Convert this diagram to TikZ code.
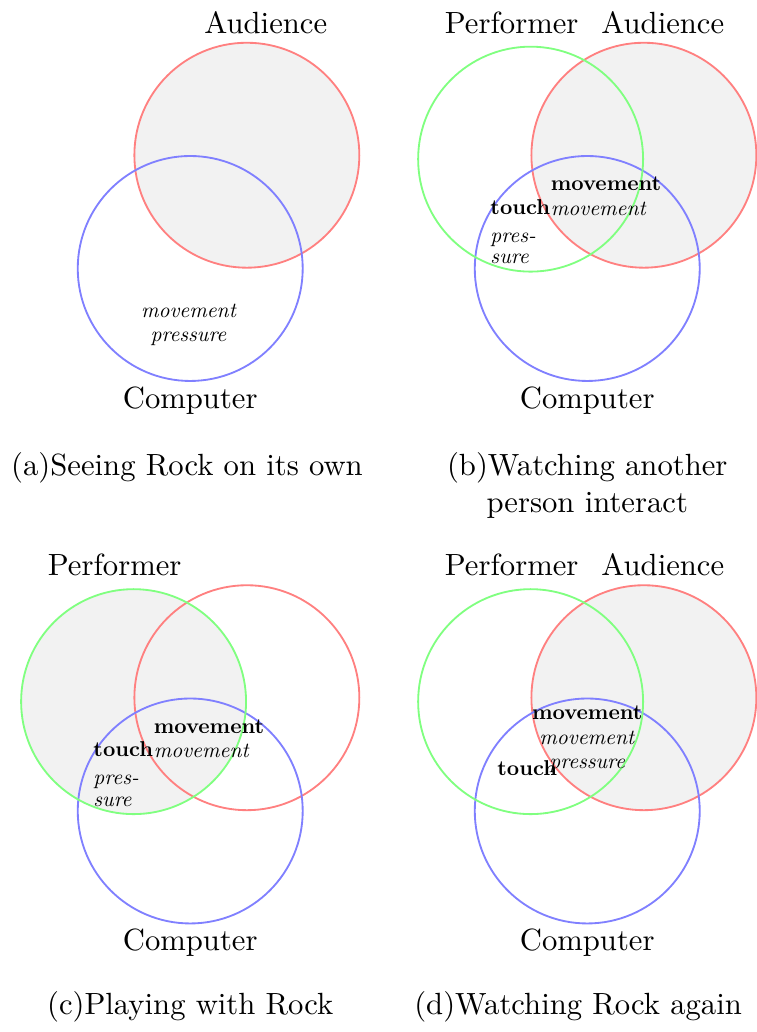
\documentclass[tikz,border=0pt]{standalone}
\usepackage{fontspec}
\setmainfont{lmroman10-regular.otf}[BoldFont=lmroman10-bold.otf, ItalicFont=lmroman10-italic.otf, BoldItalicFont=lmroman10-bolditalic.otf]
\begin{document}
\begin{tikzpicture}[
    lbl/.style={anchor=base, inner sep=0pt},
    note/.style={font=\scriptsize, inner sep=0pt},
    ring/.style={semithick},
]
\useasboundingbox (-2.180,3.077) rectangle (6.495,-8.750);
\foreach \p/\x/\y in {a/0/0, b/4.55/0, c/0/-6.217, d/4.55/-6.217} {
    \coordinate (comp-\p) at (\x,\y);
    \coordinate (aud-\p) at (\x+0.649,\y+1.298);
    \coordinate (perf-\p) at (\x-0.649,\y+1.253);
}
\foreach \c in {aud-a, aud-b, perf-c, aud-d}
    \fill[black!5] (\c) circle (1.289);
\foreach \p in {a,b,c,d} {
    \draw[ring, red!50] (aud-\p) circle (1.289);
    \draw[ring, blue!50] (comp-\p) circle (1.289);
    \node[lbl] (complbl-\p) at ([yshift=-1.602cm]comp-\p) {Computer};
}
\foreach \p in {b,c,d}
    \draw[ring, green!50] (perf-\p) circle (1.289);
\foreach \p in {a,b,d}
    \node[lbl] (audlbl-\p) at ([shift={(0.866,2.695)}]comp-\p) {Audience};
\foreach \p in {b,c,d}
    \node[lbl] (perflbl-\p) at ([shift={(-0.866,2.695)}]comp-\p) {Performer};

\node[note, font=\scriptsize\itshape, align=center, anchor=base] (notes-a) at ([shift={(-0.02,-0.842)}]comp-a) {movement\\pressure};
\foreach \p in {b,c} {
    \node[note, align=left, anchor=base west] (mv-\p) at ([shift={(-0.424,0.609)}]comp-\p) {\textbf{movement}\\\textit{movement}};
    \node[note, align=left, anchor=base west] (touch-\p) at ([shift={(-1.116,0.055)}]comp-\p) {\textbf{touch}\\[1.2pt]\textit{pres-}\\[-1pt]\textit{sure}};
}
\node[note, align=center, anchor=base] (mv-d) at ([shift={(0,0.484)}]comp-d) {\textbf{movement}\\\textit{movement}\\\textit{pressure}};
\node[note, anchor=base west] (touch-d) at ([shift={(-1.037,0.407)}]comp-d) {\textbf{touch}};

\node[lbl] (cap-a) at (-0.037,-2.367) {(a)Seeing Rock on its own};
\node[lbl, align=center] (cap-b) at (4.55,-2.799) {(b)Watching another\\person interact};
\node[lbl] (cap-c) at (0,-8.555) {(c)Playing with Rock};
\node[lbl] (cap-d) at (4.445,-8.555) {(d)Watching Rock again};
\end{tikzpicture}
\end{document}
